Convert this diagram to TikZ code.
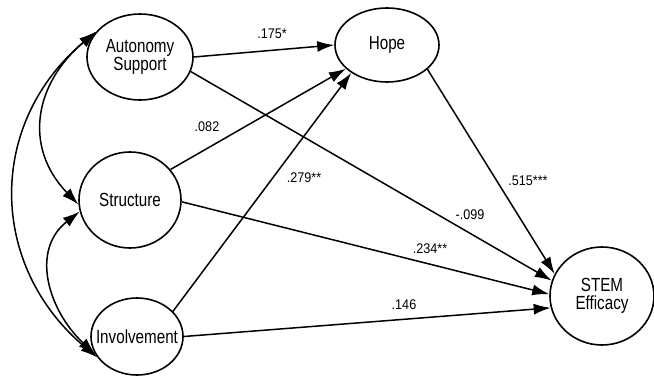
\documentclass[tikz,border=0pt]{standalone}
\usepackage{fontspec}
\setmainfont[FakeStretch=0.9]{Liberation Sans}
\newfontfamily\latentfont[FakeStretch=0.8]{Liberation Sans}
\usetikzlibrary{shapes.geometric,arrows.meta}

\begin{document}
\begin{tikzpicture}[x=1pt, y=1pt, >={Latex[length=17pt,width=11pt]},
    latent/.style = {draw, ellipse, line width=1.6pt, inner xsep=-14pt, inner ysep=0pt,
                     align=center, font=\latentfont\fontsize{19}{18.5}\selectfont},
    path/.style = {->, line width=1.5pt},
    cov/.style = {<->, line width=1.5pt},
    coef/.style = {inner sep=0pt, font=\fontsize{14}{15}\selectfont}]
    \useasboundingbox (0, 0) rectangle (654, 376);

    %%%%%%%%%% latent variables %%%%%%%%%%%%%%%%%%%
    \node [latent, minimum width=106pt, minimum height=86pt] (auto) at (140, 319) {Autonomy\\Support};
    \node [latent, minimum width=102pt, minimum height=96pt] (struct) at (130, 176) {Structure};
    \node [latent, minimum width=92pt, minimum height=77pt] (invol) at (137, 39.5) {Involvement};
    \node [latent, minimum width=104pt, minimum height=74pt] (hope) at (387, 331) {Hope};
    \node [latent, minimum width=104pt, minimum height=98pt] (stem) at (602, 80) {STEM\\Efficacy};

    %%%%%%%%%% covariances %%%%%%%%%%%%%%%%%%%
    \draw [cov] (auto.150) to [out=220, in=140, looseness=1.12] (invol.208);
    \draw [cov] (auto.150) to [out=220, in=134, looseness=1.18] (struct.185);
    \draw [cov] (struct.193) to [out=218, in=137, looseness=1.13] (invol.203);

    %%%%%%%%%% paths %%%%%%%%%%%%%%%%%%%
    \draw [path] (auto.0)    --  (hope.180);
    \draw [path] (struct.37) --  (hope.210);
    \draw [path] (invol.35)  --  (hope.218);
    \draw [path] (auto.-16)  --  (stem.163);
    \draw [path] (struct.-2) --  (stem.178);
    \draw [path] (invol.0)   --  (stem.193);
    \draw [path] (hope.-31)  --  (stem.155);

    % \node [scale = 1.5] at (327, 370) {Model};
    \node [coef] (c175) at (272, 342) {.175*};
    \node [coef] (c082) at (207, 249) {.082};
    \node [coef] (c279) at (304, 198) {.279**};
    \node [coef] (c515) at (528, 195) {.515***};
    \node [coef] (c099) at (470, 161) {-.099};
    \node [coef] (c234) at (430, 127) {.234**};
    \node [coef] (c146) at (404, 71) {.146};

\end{tikzpicture}
\end{document}
